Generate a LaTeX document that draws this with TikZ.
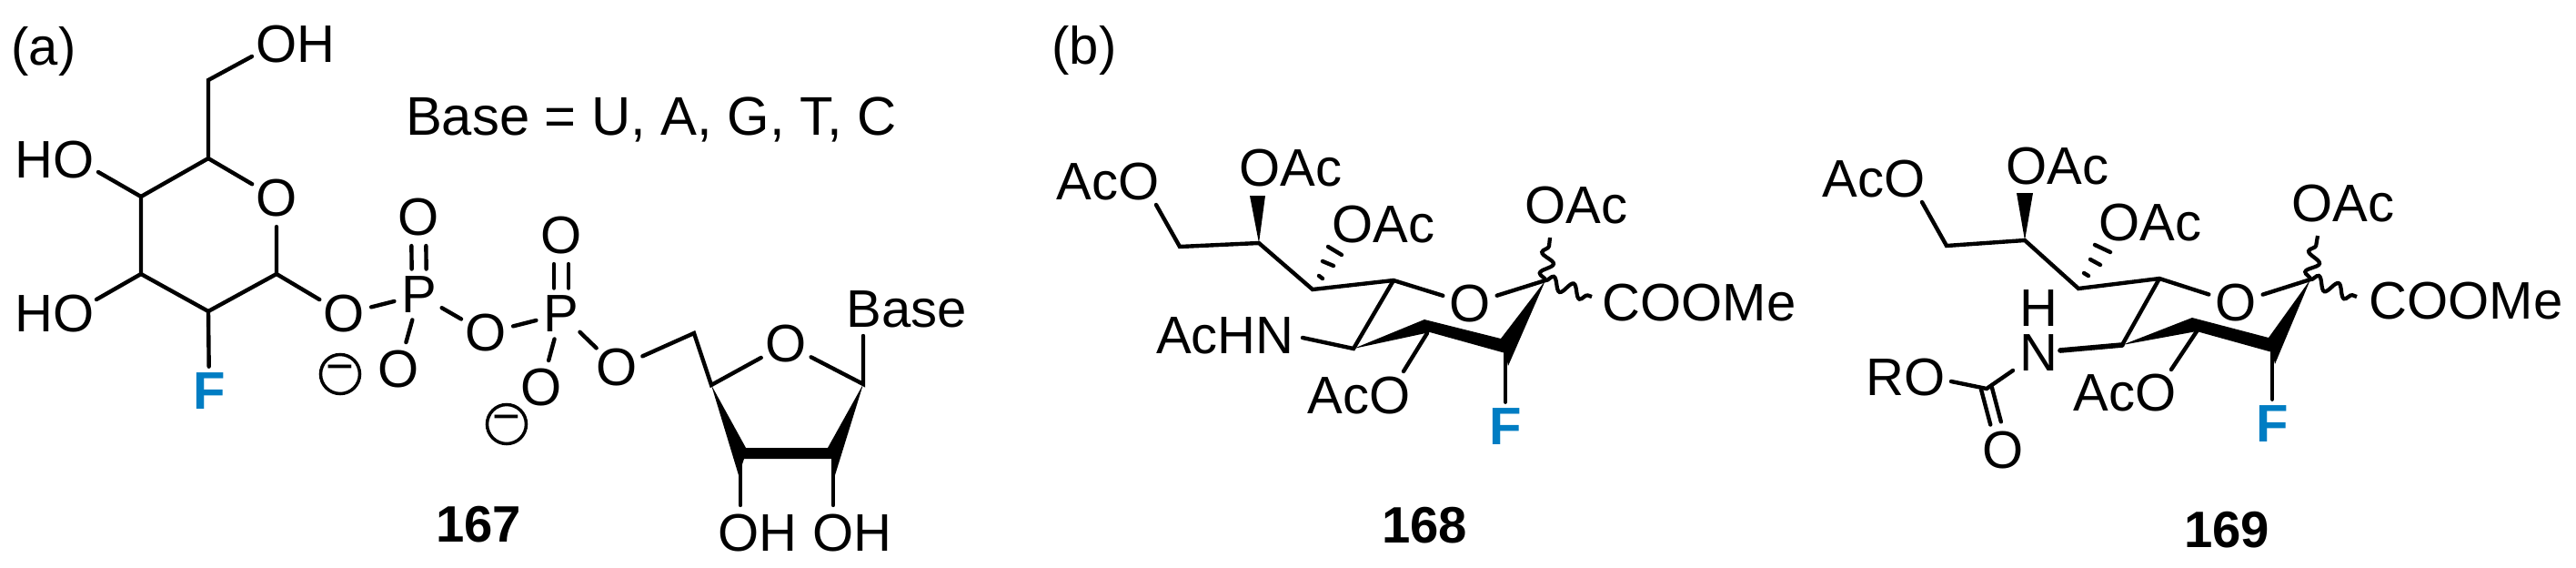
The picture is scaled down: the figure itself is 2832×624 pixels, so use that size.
\documentclass[tikz,border=0pt]{standalone}
\usepackage{fontspec}
\setmainfont{Liberation Sans}
\usetikzlibrary{decorations.pathmorphing}
\definecolor{fblue}{RGB}{0,125,195}
\tikzset{
	txt/.style={inner sep=0pt,font=\fontsize{16.5}{18}\selectfont},
	atom/.style={txt,circle},
	fluor/.style={atom,text=fblue,font=\fontsize{16.5}{18}\selectfont\bfseries},
	num/.style={txt,font=\fontsize{16}{18}\selectfont\bfseries},
	chg/.style={circle,draw,line width=1pt,inner sep=0pt,minimum size=.43cm,font=\fontsize{15}{18}\selectfont},
	bond/.style={line width=1.25pt,line cap=round},
	dblleft/.style={bond,transform canvas={xshift=-.08cm}},
	dblright/.style={bond,transform canvas={xshift=.08cm}},
	wavy/.style={line width=1.2pt,decorate,decoration={snake,amplitude=2pt,segment length=6.6pt}}
}
\begin{document}
\begin{tikzpicture}[x=.01cm,y=-.01cm]
		\useasboundingbox (0,0) rectangle (2832,624);

		\node[txt] (la) at (48,56) {(a)};
		\node[txt] (lb) at (1192,55) {(b)};
		\node[txt,font=\fontsize{17}{18}\selectfont] (baseeq) at (716,131) {Base = U, A, G, T, C};
		\node[num] (n167) at (526,576) {167};
		\node[num] (n168) at (1566,577) {168};
		\node[num] (n169) at (2448,582) {169};

		\coordinate (a6) at (229,88);
		\coordinate (a5) at (229,174);
		\coordinate (a4) at (155,216);
		\coordinate (a3) at (155,301);
		\coordinate (a2) at (229,342);
		\coordinate (a1) at (304,301);
		\coordinate (ae6) at (277,62);
		\coordinate (ae4) at (108,189);
		\coordinate (ae3) at (106,329);
		\node[txt] (aoh6) at (325,49) {OH};
		\node[txt] (aoh4) at (60,176) {HO};
		\node[txt] (aoh3) at (60,345) {HO};
		\node[atom] (ao) at (304,218) {O};
		\node[fluor] (af) at (230,430) {F};
		\node[atom] (aog) at (378,345) {O};
		\node[atom] (ap1) at (461,324) {P};
		\node[atom] (ao1) at (460,239) {O};
		\node[atom] (ao2) at (438,406) {O};
		\node[atom] (aob) at (534,366) {O};
		\node[atom] (ap2) at (617,345) {P};
		\node[atom] (ao3) at (617,259) {O};
		\node[atom] (ao4) at (595,426) {O};
		\node[atom] (ao5) at (678,404) {O};
		\node[chg] (am1) at (374,411) {−};
		\node[chg] (am2) at (557,466) {−};
		\draw[bond] (ae6) -- (a6) -- (a5) -- (a4) -- (a3) -- (a2) -- (a1) -- (ao);
		\draw[bond] (a5) -- (ao);
		\draw[bond] (a4) -- (ae4);
		\draw[bond] (a3) -- (ae3);
		\draw[bond] (a2) -- (af);
		\draw[bond] (a1) -- (aog);
		\draw[bond] (aog) -- (ap1);
		\draw[dblleft] (ap1) -- (ao1);
		\draw[dblright] (ap1) -- (ao1);
		\draw[bond] (ap1) -- (ao2);
		\draw[bond] (ap1) -- (aob);
		\draw[bond] (aob) -- (ap2);
		\draw[dblleft] (ap2) -- (ao3);
		\draw[dblright] (ap2) -- (ao3);
		\draw[bond] (ap2) -- (ao4);
		\draw[bond] (ap2) -- (ao5);

		\coordinate (r5) at (763,366);
		\coordinate (r4) at (782,423);
		\coordinate (r3) at (814,505);
		\coordinate (r2) at (916,505);
		\coordinate (r1) at (949,422);
		\coordinate (re3) at (814,555);
		\coordinate (re2) at (916,555);
		\coordinate (reb) at (949,369);
		\node[atom] (ro) at (864,378) {O};
		\node[txt] (rbase) at (997,340) {Base};
		\node[txt] (roh3) at (833,586) {OH};
		\node[txt] (roh2) at (937,586) {OH};
		\draw[bond] (ao5) -- (r5) -- (r4) -- (ro);
		\draw[bond] (ro) -- (r1) -- (reb);
		\draw[bond] (r3) -- (re3);
		\draw[bond] (r2) -- (re2);
		\fill (r4) -- (820,492) -- (910,492) -- (r1) -- (918,522) -- (914,504) -- (818,504) -- (812,522) -- cycle;

		\coordinate (b9) at (1271,225);
		\coordinate (b8) at (1297,271);
		\coordinate (b7) at (1384,267);
		\coordinate (b6) at (1443,318);
		\coordinate (b5) at (1532,308);
		\coordinate (b4) at (1488,383);
		\coordinate (b3) at (1569,366);
		\coordinate (b2) at (1655,388);
		\coordinate (b1) at (1699,308);
		\coordinate (be5) at (1432,371);
		\coordinate (be3) at (1543,408);
		\coordinate (bw1) at (1704,261);
		\coordinate (bw2) at (1750,326);
		\node[txt] (baco1) at (1218,200) {AcO};
		\node[txt] (boac1) at (1419,185) {OAc};
		\node[txt] (boac2) at (1521,247) {OAc};
		\node[txt] (boac3) at (1733,226) {OAc};
		\node[txt] (bcoo) at (1868,333) {COOMe};
		\node[txt] (bachn) at (1347,369) {AcHN};
		\node[txt] (baco2) at (1494,435) {AcO};
		\node[atom] (bo) at (1616,334) {O};
		\node[fluor] (bf) at (1655,469) {F};
		\draw[bond] (b9) -- (b8) -- (b7) -- (b6) -- (b5) -- (bo);
		\draw[bond] (bo) -- (b1);
		\draw[bond] (b5) -- (b4) -- (be5);
		\draw[bond] (b3) -- (be3);
		\draw[bond] (b2) -- (bf);
		\draw[wavy] (b1) -- (bw1);
		\draw[wavy] (b1) -- (bw2);
		\fill (b7) -- (1374,215) -- (1391,215) -- cycle;
		\fill (b4) -- (1566,351) -- (1650,372) -- (b1) -- (1658,402) -- (1655,388) -- (1572,365) -- cycle;
		\draw[bond] (1450,303) -- (1454,306);
		\draw[bond] (1454,287) -- (1466,292);
		\draw[bond] (1460,271) -- (1475,280);

		\coordinate (c9) at (2113,222);
		\coordinate (c8) at (2140,270);
		\coordinate (c7) at (2226,264);
		\coordinate (c6) at (2285,317);
		\coordinate (c5) at (2374,306);
		\coordinate (c4) at (2333,379);
		\coordinate (c3) at (2415,364);
		\coordinate (c2) at (2498,387);
		\coordinate (c1) at (2540,307);
		\coordinate (cc) at (2184,427);
		\coordinate (ce3) at (2387,406);
		\coordinate (ce1) at (2145,419);
		\coordinate (ce4) at (2265,385);
		\coordinate (ce5) at (2213,407);
		\coordinate (cw1) at (2548,259);
		\coordinate (cw2) at (2591,326);
		\node[txt] (caco1) at (2060,197) {AcO};
		\node[txt] (coac1) at (2262,183) {OAc};
		\node[txt] (coac2) at (2364,245) {OAc};
		\node[txt] (coac3) at (2576,224) {OAc};
		\node[txt] (ccoo) at (2711,331) {COOMe};
		\node[txt] (caco2) at (2336,432) {AcO};
		\node[txt] (cro) at (2095,415) {RO};
		\node[txt,align=center,font=\fontsize{16.5}{13.7}\selectfont] (chn) at (2241,363) {H\\N};
		\node[atom] (co) at (2458,333) {O};
		\node[atom] (coc) at (2202,495) {O};
		\node[fluor] (cf) at (2498,466) {F};
		\draw[bond,transform canvas={xshift=-.058cm,yshift=-.016cm}] (cc) -- (coc);
		\draw[bond,transform canvas={xshift=.058cm,yshift=.016cm}] (cc) -- (coc);
		\draw[bond] (c9) -- (c8) -- (c7) -- (c6) -- (c5) -- (co);
		\draw[bond] (co) -- (c1);
		\draw[bond] (c5) -- (c4);
		\draw[bond,line width=1.6pt] (c4) -- (ce4);
		\draw[bond] (ce5) -- (cc) -- (ce1);
		\draw[bond] (c3) -- (ce3);
		\draw[bond] (c2) -- (cf);
		\draw[wavy] (c1) -- (cw1);
		\draw[wavy] (c1) -- (cw2);
		\fill (c7) -- (2217,212) -- (2235,212) -- cycle;
		\fill (c4) -- (2410,349) -- (2494,371) -- (c1) -- (2501,400) -- (2498,387) -- (2415,364) -- cycle;
		\draw[bond] (2291,300) -- (2296,303);
		\draw[bond] (2298,285) -- (2309,291);
		\draw[bond] (2303,269) -- (2320,277);
		\end{tikzpicture}
\end{document}
